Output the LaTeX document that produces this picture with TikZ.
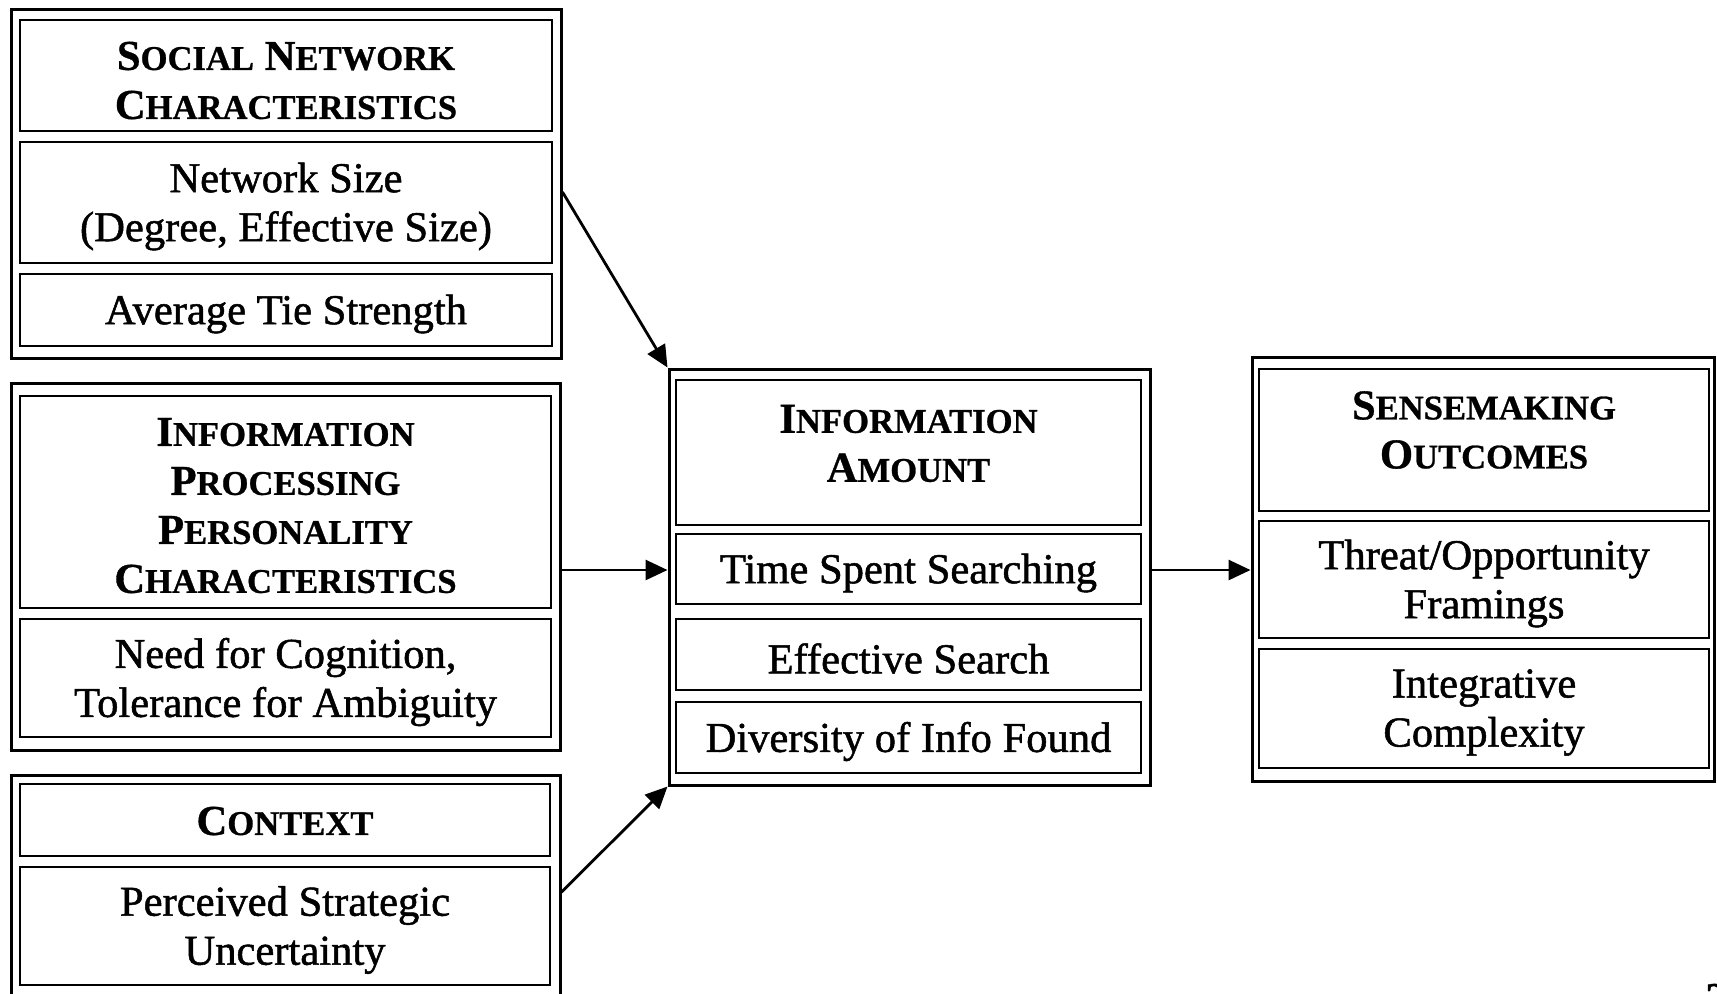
\documentclass[tikz,border=0pt]{standalone}
\usepackage{fontspec}
\setmainfont{Liberation Serif}
\newfontfamily\bodyfont{Liberation Serif}[FakeBold=1.2]
\newfontfamily\headfont{Liberation Serif Bold}[FakeBold=0.8]
\usetikzlibrary{fit,arrows.meta}
\newcommand\SCx[2]{#1{\fontsize{17.3pt}{24.5pt}\selectfont #2}}
\tikzset{
  obox/.style={draw, line width=1.5pt, inner sep=0pt},
  ibox/.style={draw, line width=1.4pt, inner sep=0pt},
  btxt/.style={align=center, inner sep=0pt, yshift=-2pt,
    font=\fontsize{21.3pt}{24.5pt}\bodyfont},
  htxt/.style={align=center, inner sep=0pt,
    font=\fontsize{21.3pt}{24.5pt}\headfont},
  conn/.style={line width=1.4pt, -{Triangle[length=11pt,width=10pt]}}
}
\begin{document}
\begin{tikzpicture}[x=0.5pt,y=-0.5pt]
\useasboundingbox (0,0) rectangle (1717,993);
% group 1
\node (g1) [obox, fit={(11,9) (561,358)}] {};
\node (g1h) [ibox, fit={(20,20) (552,131)}] {};
\node (g1a) [ibox, fit={(20,142) (552,263)}] {};
\node (g1b) [ibox, fit={(20,274) (552,346)}] {};
\node (t1h) [htxt, yshift=-2.5pt] at (g1h.center) {\SCx{S}{OCIAL} \SCx{N}{ETWORK}\\\SCx{C}{HARACTERISTICS}};
\node (t1a) [btxt] at (g1a.center) {Network Size\\(Degree, Effective Size)};
\node (t1b) [btxt] at (g1b.center) {Average Tie Strength};
% group 2
\node (g2) [obox, fit={(11,383) (560,750)}] {};
\node (g2h) [ibox, fit={(20,396) (551,608)}] {};
\node (g2a) [ibox, fit={(20,619) (551,737)}] {};
\node (t2h) [htxt, yshift=-1.8pt] at (g2h.center) {\SCx{I}{NFORMATION}\\\SCx{P}{ROCESSING}\\\SCx{P}{ERSONALITY}\\\SCx{C}{HARACTERISTICS}};
\node (t2a) [btxt] at (g2a.center) {Need for Cognition,\\Tolerance for Ambiguity};
% group 3
\node (g3) [obox, fit={(11,775) (560,1010)}] {};
\node (g3h) [ibox, fit={(20,784) (550,856)}] {};
\node (g3a) [ibox, fit={(20,867) (550,985)}] {};
\node (t3h) [htxt, yshift=-0.5pt] at (g3h.center) {\SCx{C}{ONTEXT}};
\node (t3a) [btxt] at (g3a.center) {Perceived Strategic\\Uncertainty};
% center
\node (c) [obox, fit={(669,369) (1150,785)}] {};
\node (ch) [ibox, fit={(676,380) (1141,525)}] {};
\node (ca) [ibox, fit={(676,534) (1141,604)}] {};
\node (cb) [ibox, fit={(676,619) (1141,690)}] {};
\node (cc) [ibox, fit={(676,702) (1141,773)}] {};
\node (tch) [htxt, yshift=4.5pt] at (ch.center) {\SCx{I}{NFORMATION}\\\SCx{A}{MOUNT}};
\node (tca) [btxt] at (ca.center) {Time Spent Searching};
\node (tcb) [btxt] at (cb.center) {Effective Search};
\node (tcc) [btxt] at (cc.center) {Diversity of Info Found};
% right
\node (r) [obox, fit={(1252,357) (1714,781)}] {};
\node (rh) [ibox, fit={(1259,369) (1709,511)}] {};
\node (ra) [ibox, fit={(1259,521) (1709,638)}] {};
\node (rb) [ibox, fit={(1259,649) (1709,768)}] {};
\node (trh) [htxt, yshift=5pt] at (rh.center) {\SCx{S}{ENSEMAKING}\\\SCx{O}{UTCOMES}};
\node (tra) [btxt] at (ra.center) {Threat/Opportunity\\Framings};
\node (trb) [btxt] at (rb.center) {Integrative\\Complexity};
% page number fragment
\node (pg) [anchor=base, inner sep=0pt, font=\fontsize{21.3pt}{24.5pt}\headfont] at (1716,1012) {2};
% connectors
\draw[conn] (g1.east |- 0,192) -- (c.north west);
\draw[conn] (g2.east |- 0,570) -- (c.west |- 0,570);
\draw[conn] (g3.east |- 0,892) -- (c.south west);
\draw[conn] (c.east |- 0,570) -- (r.west |- 0,570);
\end{tikzpicture}
\end{document}
